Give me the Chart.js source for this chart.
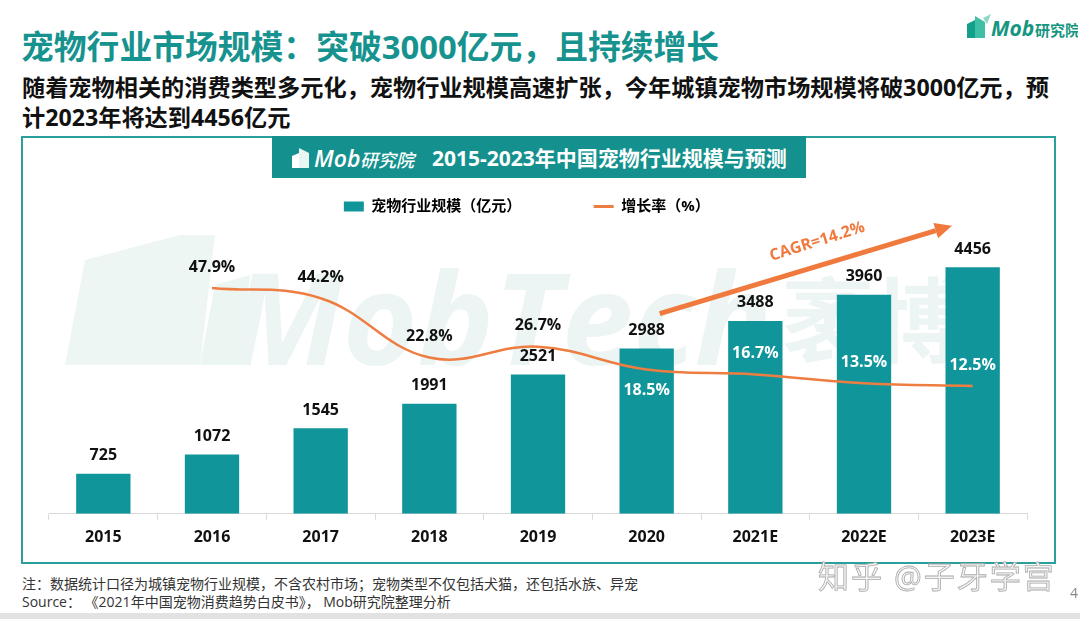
<!DOCTYPE html>
<html>
<head>
<meta charset="utf-8">
<script src="https://cdn.jsdelivr.net/npm/chart.js@4.4.1/dist/chart.umd.min.js"></script>
<style>
  body { margin: 0; width: 1080px; height: 619px; background: #fff; position: relative; overflow: hidden;
         font-family: "Open Sans", "Noto Sans CJK SC", sans-serif; }
  .title { position: absolute; left: 21px; top: 21px; font-size: 32.8px; font-weight: 700; color: #17938f; white-space: nowrap; }
  .sub { position: absolute; left: 22px; top: 72px; font-size: 23.2px; font-weight: 700; color: #111; line-height: 30px; white-space: nowrap; }
  .logo { position: absolute; left: 963px; top: 12px; }
  .panel { position: absolute; left: 21px; top: 136px; width: 1035px; height: 428px; border: 2px solid #2a9f9b; box-sizing: border-box; }
  .banner { position: absolute; left: 272px; top: 136px; width: 534px; height: 42px; background: #14918e; }
  .banner .txt { position: absolute; left: 160px; top: 6px; font-size: 21px; font-weight: 700; color: #fff; white-space: nowrap; }
  .wm { position: absolute; left: 40px; top: 225px; }
  .chartbox { position: absolute; left: 22px; top: 180px; width: 1036px; height: 385px; }
  .note { position: absolute; left: 22px; top: 575px; font-size: 14px; color: #333; line-height: 18px; white-space: nowrap; }
  .zh { position: absolute; left: 818px; top: 552px; font-size: 31px; color: #f4f4f4; -webkit-text-stroke: 0.8px #aaa; white-space: nowrap; letter-spacing: 2px; }
  .pg { position: absolute; left: 1070px; top: 583px; font-size: 14px; color: #888; }
  .band { position: absolute; left: 0; top: 613px; width: 1080px; height: 6px; background: #e2e2e2; }
</style>
</head>
<body>
<div class="title">宠物行业市场规模：突破3000亿元，且持续增长</div>
<div class="sub">随着宠物相关的消费类型多元化，宠物行业规模高速扩张，今年城镇宠物市场规模将破3000亿元，预<br>计2023年将达到4456亿元</div>
<svg class="logo" width="115" height="30" viewBox="0 0 115 30">
  <polygon points="4,26 4,12 12,8 12,26" fill="#13a08a"/>
  <polygon points="12,26 12,4 22,10 22,26" fill="#3fbfa5"/>
  <polygon points="20,6 28,2 24,12" fill="#8ed8c6"/>
  <text x="28" y="24" font-family="Open Sans, sans-serif" font-style="italic" font-weight="700" font-size="21" fill="#15967f">Mob</text>
  <text x="72" y="24" font-family="Noto Sans CJK SC" font-weight="700" font-size="15" fill="#15967f">研究院</text>
</svg>

<svg class="wm" width="1000" height="160" viewBox="0 0 1000 160">
  <polygon points="25,140 45,35 140,10 175,10 160,140" fill="#eef6f4"/>
  <polygon points="160,140 175,60 210,50 200,140" fill="#ebf5f2"/>
  <text x="190" y="140" font-family="Open Sans, sans-serif" font-style="italic" font-weight="700" font-size="128" fill="#ecf5f3">MobTech</text>
  <text x="742" y="130" font-family="Noto Sans CJK SC" font-weight="700" font-size="92" fill="#ecf5f3">袤博</text>
</svg>

<div class="panel"></div>
<div class="banner">
  <svg style="position:absolute;left:18px;top:7px" width="150" height="30" viewBox="0 0 150 30">
    <polygon points="2,25 2,13 9,10 9,25" fill="#fff"/>
    <polygon points="9,25 9,5 19,10 19,25" fill="#e8f6f3"/>
    <text x="24" y="24" font-family="Open Sans, sans-serif" font-style="italic" font-weight="600" font-size="23" fill="#fff">Mob</text>
    <text x="70" y="24" font-family="Noto Sans CJK SC" font-style="italic" font-weight="500" font-size="18" fill="#fff">研究院</text>
  </svg>
  <div class="txt">2015-2023年中国宠物行业规模与预测</div>
</div>

<div class="chartbox"><canvas id="c"></canvas></div>

<div class="note">注：数据统计口径为城镇宠物行业规模，不含农村市场；宠物类型不仅包括犬猫，还包括水族、异宠<br>Source： 《2021年中国宠物消费趋势白皮书》， Mob研究院整理分析</div>
<div class="zh">知乎 @子牙学宫</div>
<div class="pg">4</div>
<div class="band"></div>

<script>
// chart data
var years = ['2015', '2016', '2017', '2018', '2019', '2020', '2021E', '2022E', '2023E'];
var marketSize = [725, 1072, 1545, 1991, 2521, 2988, 3488, 3960, 4456];
var growthRate = [null, 47.9, 44.2, 22.8, 26.7, 18.5, 16.7, 13.5, 12.5];

var teal = '#10969a';
var orange = '#ee7d42';
var labelFont = 'bold 16px "Open Sans", "Noto Sans CJK SC", sans-serif';

// value labels for bars and line
var valueLabels = {
    id: 'valueLabels',
    afterDatasetsDraw: function (chart) {
        var ctx = chart.ctx;
        ctx.save();
        ctx.font = labelFont;
        ctx.textAlign = 'center';
        ctx.textBaseline = 'middle';
        chart.getDatasetMeta(0).data.forEach(function (bar, i) {
            ctx.fillStyle = '#111';
            ctx.fillText(marketSize[i], bar.x, bar.y - 18);
        });
        var below = [5];
        chart.getDatasetMeta(1).data.forEach(function (pt, i) {
            if (growthRate[i] === null) return;
            var isBelow = below.indexOf(i) >= 0;
            ctx.fillStyle = i >= 5 ? '#fff' : '#111';
            ctx.fillText(growthRate[i].toFixed(1) + '%', pt.x, isBelow ? pt.y + 21 : pt.y - 21);
        });
        ctx.restore();
    }
};

// CAGR arrow annotation
var cagrArrow = {
    id: 'cagrArrow',
    afterDatasetsDraw: function (chart) {
        var x = chart.scales.x, y = chart.scales.y, ctx = chart.ctx;
        var x0 = x.getPixelForValue(5.12), y0 = y.getPixelForValue(3620);
        var x1 = x.getPixelForValue(7.81), y1 = y.getPixelForValue(5210);
        var ang = Math.atan2(y1 - y0, x1 - x0);
        var head = 17;
        ctx.save();
        ctx.strokeStyle = '#f07a3e';
        ctx.fillStyle = '#f07a3e';
        ctx.lineWidth = 5;
        ctx.beginPath();
        ctx.moveTo(x0, y0);
        ctx.lineTo(x1 - Math.cos(ang) * head, y1 - Math.sin(ang) * head);
        ctx.stroke();
        ctx.beginPath();
        ctx.moveTo(x1, y1);
        ctx.lineTo(x1 - Math.cos(ang) * head - Math.sin(ang) * 8, y1 - Math.sin(ang) * head + Math.cos(ang) * 8);
        ctx.lineTo(x1 - Math.cos(ang) * head + Math.sin(ang) * 8, y1 - Math.sin(ang) * head - Math.cos(ang) * 8);
        ctx.closePath();
        ctx.fill();
        ctx.translate(x.getPixelForValue(6.57), y.getPixelForValue(4920));
        ctx.rotate(-17.5 * Math.PI / 180);
        ctx.font = 'bold 16px "Open Sans", sans-serif';
        ctx.textAlign = 'center';
        ctx.textBaseline = 'middle';
        ctx.fillText('CAGR=14.2%', 0, 0);
        ctx.restore();
    }
};

var ctx = document.getElementById('c').getContext('2d');
var chart = new Chart(ctx, {
    type: 'bar',
    data: {
        labels: years,
        datasets: [{
            type: 'bar',
            label: '宠物行业规模（亿元）　　　　  ',
            data: marketSize,
            backgroundColor: teal,
            barPercentage: 0.5,
            categoryPercentage: 1,
            yAxisID: 'y',
            order: 2
        }, {
            type: 'line',
            label: '增长率（%）　　',
            data: growthRate,
            borderColor: orange,
            backgroundColor: orange,
            borderWidth: 2.5,
            pointRadius: 0,
            tension: 0.4,
            yAxisID: 'y2',
            order: 1
        }]
    },
    options: {
        responsive: true,
        maintainAspectRatio: false,
        animation: false,
        layout: { padding: { left: 27, right: 31, top: 7, bottom: 10 } },
        plugins: {
            legend: {
                display: true,
                position: 'top',
                labels: {
                    usePointStyle: true,
                    pointStyleWidth: 20,
                    boxHeight: 10,
                    padding: 12,
                    color: '#111',
                    font: { family: '"Open Sans", "Noto Sans CJK SC", sans-serif', size: 15, weight: 'bold' },
                    generateLabels: function (chart) {
                        return chart.data.datasets.map(function (ds, i) {
                            return {
                                text: ds.label,
                                fillStyle: ds.backgroundColor,
                                strokeStyle: i === 0 ? ds.backgroundColor : ds.borderColor,
                                lineWidth: i === 0 ? 0 : 3,
                                pointStyle: i === 0 ? 'rect' : 'line',
                                datasetIndex: i
                            };
                        });
                    }
                }
            },
            tooltip: { enabled: false }
        },
        scales: {
            x: {
                grid: { display: true, drawOnChartArea: false, color: '#d9d9d9', tickLength: 6, offset: true },
                border: { display: true, color: '#d9d9d9' },
                ticks: { color: '#111', padding: 8, font: { family: '"Open Sans", sans-serif', size: 16, weight: 'bold' } }
            },
            y: { display: false, min: 0, max: 5240 },
            y2: { display: false, min: -33.6, max: 71.0 }
        }
    },
    plugins: [valueLabels, cagrArrow]
});
</script>
</body>
</html>
